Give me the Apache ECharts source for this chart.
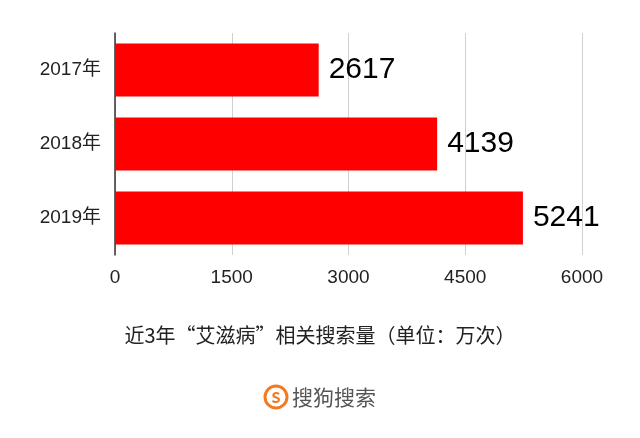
<!DOCTYPE html>
<html><head><meta charset="utf-8">
<script src="https://cdn.jsdelivr.net/npm/echarts@6/dist/echarts.min.js"></script>
<style>html,body{margin:0;padding:0;background:#fff}#c{width:640px;height:438px}</style>
</head><body><div id="c"></div>
<script>
const categories = ['2017年', '2018年', '2019年'];
const values = [2617, 4139, 5241];
const xTicks = [0, 1500, 3000, 4500, 6000];
const titleText = '近3年“艾滋病”相关搜索量（单位：万次）';
const logoText = '搜狗搜索';

const FONT = '"Liberation Sans", "Noto Sans CJK SC", sans-serif';
const CJK = '"Noto Sans CJK SC", sans-serif';
const chart = echarts.init(document.getElementById('c'));
chart.setOption({
  backgroundColor: '#fff',
  animation: false,
  grid: { left: 115, right: 58, top: 33, bottom: 183, containLabel: false },
  xAxis: {
    type: 'value', min: xTicks[0], max: xTicks[xTicks.length - 1], interval: xTicks[1] - xTicks[0],
    axisLine: { show: false }, axisTick: { show: false },
    splitLine: { show: true, lineStyle: { color: '#d0d0d0', width: 1 } },
    axisLabel: { color: '#222', fontSize: 19, fontFamily: FONT, margin: 13, formatter: v => String(v) }
  },
  yAxis: {
    type: 'category', data: categories, inverse: true,
    axisLine: { show: true, lineStyle: { color: '#333', width: 1.5 } },
    axisTick: { show: false },
    axisLabel: { color: '#222', fontSize: 19, fontFamily: FONT, margin: 14 }
  },
  series: [{
    type: 'bar', data: values, barWidth: 53,
    itemStyle: { color: '#ff0000' },
    label: { show: true, position: 'right', distance: 10, color: '#000', fontSize: 30, fontFamily: FONT }
  }],
  graphic: [
    { type: 'text', left: 'center', top: 325, style: { text: titleText, fill: '#222', font: '20px ' + CJK } },
    { type: 'circle', shape: { cx: 276, cy: 397, r: 11 }, style: { fill: 'none', stroke: '#f47a20', lineWidth: 3 } },
    { type: 'text', x: 276, y: 397, style: { text: 'S', fill: '#f47a20', font: 'bold 15px ' + CJK, align: 'center', verticalAlign: 'middle' } },
    { type: 'text', x: 292, y: 397, style: { text: logoText, fill: '#555', font: '21px ' + CJK, verticalAlign: 'middle' } }
  ]
});
</script></body></html>
